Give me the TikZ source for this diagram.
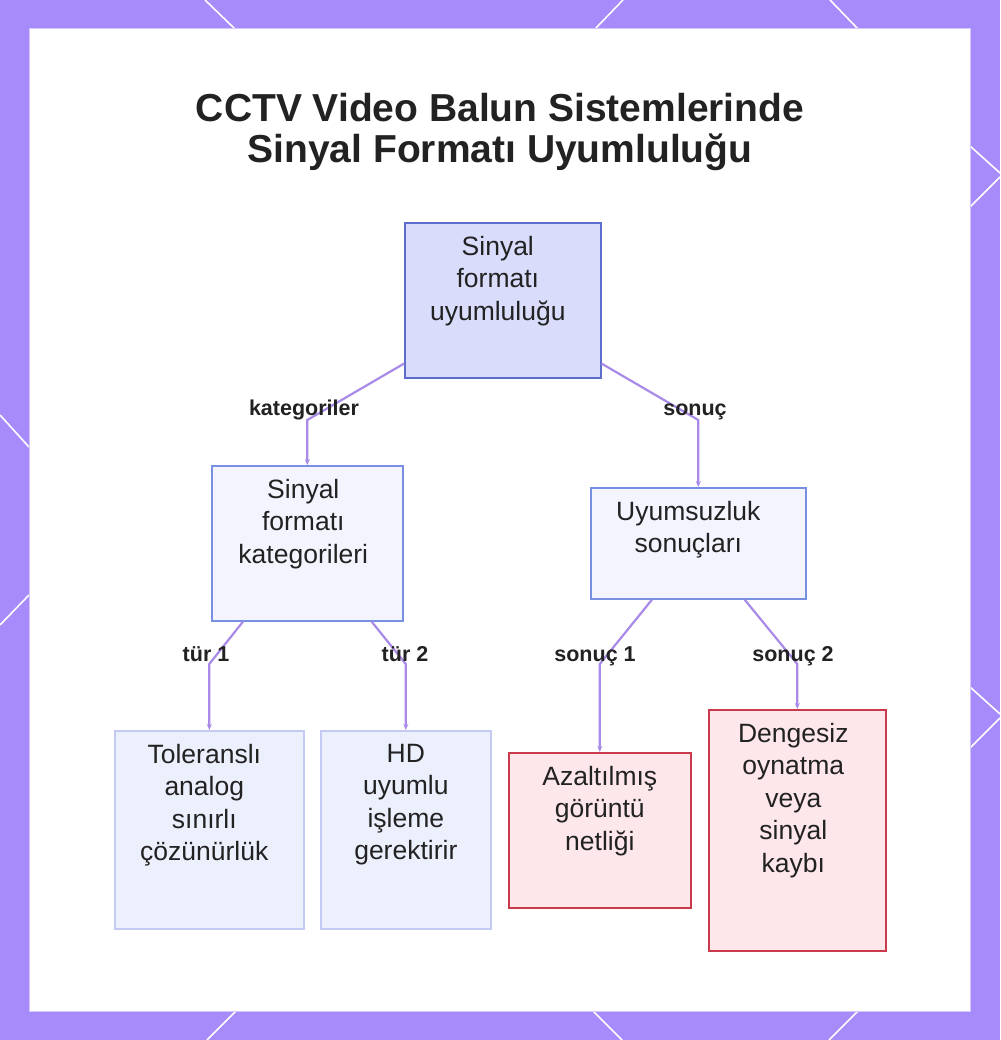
\documentclass[tikz,border=0pt]{standalone}
\usepackage{fontspec}
\setmainfont{Liberation Sans}
\usetikzlibrary{arrows.meta}
\definecolor{framecol}{HTML}{A78BFA}
\definecolor{cardedge}{HTML}{D4C6FC}
\definecolor{txt}{HTML}{222222}
\definecolor{edgecol}{HTML}{A98AE8}
\definecolor{rootfill}{HTML}{D9DCFA}
\definecolor{rootdraw}{HTML}{5D6DCC}
\definecolor{midfill}{HTML}{F3F4FE}
\definecolor{middraw}{HTML}{7890E2}
\definecolor{leaffill}{HTML}{ECEFFC}
\definecolor{leafdraw}{HTML}{C3CBF5}
\definecolor{redfill}{HTML}{FDE7EA}
\definecolor{reddraw}{HTML}{C93A4C}
% #1 = twice the leftward text shift, #2 width, #3 height, #4 text
\newcommand\bxt[4][0pt]{\parbox[c][#3pt][t]{#2pt}{\centering\rightskip=#1 plus 1fil\relax\vspace*{13pt}#4}}
\tikzset{
  basebox/.style={line width=1.6pt, inner sep=0pt, anchor=north west, text=txt,
    font=\fontsize{26.5}{32.5}\selectfont},
  rootbox/.style={basebox, fill=rootfill, draw=rootdraw},
  midbox/.style={basebox, fill=midfill, draw=middraw},
  leafbox/.style={basebox, fill=leaffill, draw=leafdraw},
  redbox/.style={basebox, fill=redfill, draw=reddraw},
  conn/.style={draw=edgecol, line width=2.2pt, -{Stealth[length=6pt,width=5pt]}},
  lbl/.style={anchor=base, text=txt, font=\bfseries\fontsize{21.5}{24}\selectfont, inner sep=0pt},
  deco/.style={white, line width=1.6pt},
}
\begin{document}
\begin{tikzpicture}[x=1pt,y=-1pt]
\useasboundingbox (0,0) rectangle (1000,1040);
\fill[framecol] (0,0) rectangle (1000,1040);
% decorative lines in the frame
\draw[deco] (205,0) -- (235,29);
\draw[deco] (623,0) -- (595,29);
\draw[deco] (830,0) -- (858,29);
\draw[deco] (236,1011) -- (207,1040);
\draw[deco] (593,1011) -- (622,1040);
\draw[deco] (858,1011) -- (829,1040);
\draw[deco] (0,415) -- (29,447);
\draw[deco] (29,595) -- (0,625);
\draw[deco] (970,146) -- (1000,173);
\draw[deco] (970,207) -- (1000,177);
\draw[deco] (970,687) -- (1000,714);
\draw[deco] (970,748) -- (1000,718);
% card
\filldraw[fill=white, draw=cardedge, line width=1pt] (29,29) rectangle (970,1011);
% title
\node[text=txt, align=center, font=\bfseries\fontsize{39}{41}\selectfont] (title) at (500,132)
  {CCTV Video Balun Sistemlerinde\\Sinyal Formatı Uyumluluğu};
% boxes
\node[rootbox] (root) at (404,222) {\bxt[10pt]{196}{155}{Sinyal\\formatı\\uyumluluğu}};
\node[midbox] (cat) at (211,465) {\bxt[8pt]{191}{155}{Sinyal\\formatı\\kategorileri}};
\node[midbox] (unc) at (590,487) {\bxt[20pt]{215}{111}{Uyumsuzluk\\sonuçları}};
\node[leafbox] (t1) at (114,730) {\bxt[10pt]{189}{198}{Toleranslı\\analog\\sınırlı\\çözünürlük}};
\node[leafbox] (t2) at (320,730) {\bxt{170}{198}{HD\\uyumlu\\işleme\\gerektirir}};
\node[redbox] (s1) at (508,752) {\bxt{182}{155}{Azaltılmış\\görüntü\\netliği}};
\node[redbox] (s2) at (708,709) {\bxt[8pt]{177}{241}{Dengesiz\\oynatma\\veya\\sinyal\\kaybı}};
% bend levels
\coordinate (b1) at (0,420);
\coordinate (b2) at (0,664);
% connectors
\draw[conn] ([yshift=15pt]root.south west) -- (cat.north |- b1) -- (cat.north);
\draw[conn] ([yshift=15pt]root.south east) -- (unc.north |- b1) -- (unc.north);
\draw[conn] ([xshift=32pt]cat.south west) -- (t1.north |- b2) -- (t1.north);
\draw[conn] ([xshift=-32pt]cat.south east) -- (t2.north |- b2) -- (t2.north);
\draw[conn] ([xshift=62pt]unc.south west) -- (s1.north |- b2) -- (s1.north);
\draw[conn] ([xshift=-62pt]unc.south east) -- (s2.north |- b2) -- (s2.north);
% labels
\node[lbl] (l1) at (304,415) {kategoriler};
\node[lbl] (l2) at (695,415) {sonuç};
\node[lbl] (l3) at (206,661) {tür 1};
\node[lbl] (l4) at (405,661) {tür 2};
\node[lbl] (l5) at (595,661) {sonuç 1};
\node[lbl] (l6) at (793,661) {sonuç 2};
\end{tikzpicture}
\end{document}
